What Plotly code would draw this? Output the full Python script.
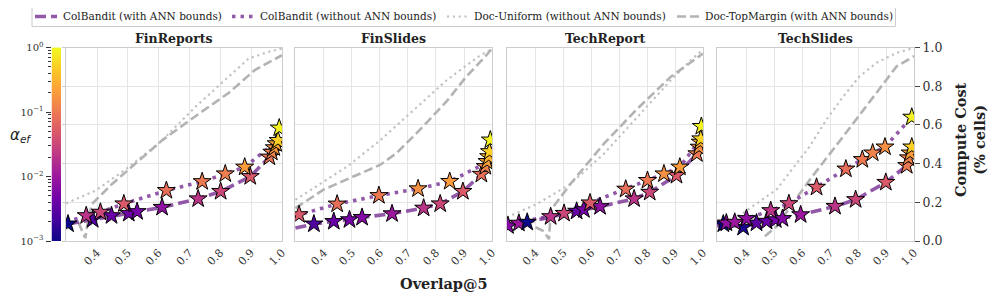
import numpy as np
import plotly.graph_objects as go

datasets = ["FinReports", "FinSlides", "TechReport", "TechSlides"]

# ---- ColBandit (with ANN bounds): Overlap@5, compute cost, log10(alpha_ef) (None = no star)
finreports_ann_x = [0.306, 0.386, 0.447, 0.503, 0.530, 0.611, 0.728, 0.801, 0.897, 0.959, 0.967, 0.975, 0.981]
finreports_ann_y = [0.088, 0.111, 0.131, 0.143, 0.152, 0.174, 0.218, 0.256, 0.333, 0.434, 0.459, 0.482, 0.503]
finreports_ann_a = [-3.0, -2.6, -2.4, -2.35, -2.3, -2.1, -1.7, -1.5, -1.3, -1.05, -0.9, -0.75, -0.6]
# ---- ColBandit (without ANN bounds)
finreports_noann_x = [0.300, 0.365, 0.411, 0.487, 0.625, 0.741, 0.816, 0.879, 0.987, 0.991]
finreports_noann_y = [0.097, 0.131, 0.149, 0.192, 0.261, 0.307, 0.347, 0.382, 0.520, 0.584]
finreports_noann_a = [None, -1.7, -1.5, -1.3, -1.1, -1.0, -0.95, -0.7, -0.3, -0.05]
# ---- Doc-Uniform (without ANN bounds)
finreports_uni_x = [0.300, 0.395, 0.503, 0.611, 0.719, 0.827, 0.892, 0.957, 1.000]
finreports_uni_y = [0.195, 0.260, 0.382, 0.520, 0.693, 0.848, 0.943, 0.978, 0.995]
# ---- Doc-TopMargin (with ANN bounds)
finreports_top_x = [0.340, 0.352, 0.362, 0.372, 0.384, 0.449, 0.503, 0.611, 0.719, 0.827, 0.913, 0.989, 1.000]
finreports_top_y = [0.095, 0.050, 0.015, 0.120, 0.192, 0.295, 0.370, 0.520, 0.645, 0.765, 0.885, 0.952, 0.960]

finslides_ann_x = [0.298, 0.364, 0.435, 0.491, 0.536, 0.643, 0.756, 0.815, 0.896, 0.962, 0.976, 0.982, 0.988]
finslides_ann_y = [0.067, 0.088, 0.101, 0.110, 0.122, 0.141, 0.170, 0.192, 0.256, 0.345, 0.385, 0.411, 0.436]
finslides_ann_a = [None, -2.6, -2.4, -2.3, -2.2, -2.0, -1.7, -1.5, -1.3, -1.1, -0.9, -0.7, -0.5]
finslides_noann_x = [0.298, 0.311, 0.447, 0.596, 0.736, 0.849, 0.975, 0.991, 0.994]
finslides_noann_y = [0.130, 0.136, 0.191, 0.235, 0.270, 0.308, 0.400, 0.462, 0.522]
finslides_noann_a = [None, -1.3, -1.1, -1.0, -0.8, -0.7, None, -0.3, -0.05]
finslides_uni_x = [0.298, 0.400, 0.483, 0.602, 0.720, 0.839, 0.958, 1.000]
finslides_uni_y = [0.213, 0.310, 0.385, 0.522, 0.677, 0.832, 0.960, 0.990]
finslides_top_x = [0.298, 0.398, 0.505, 0.600, 0.659, 0.742, 0.837, 0.908, 0.980, 1.000]
finslides_top_y = [0.170, 0.265, 0.333, 0.393, 0.454, 0.574, 0.720, 0.849, 0.960, 0.995]

techreport_ann_x = [0.301, 0.340, 0.370, 0.460, 0.547, 0.573, 0.631, 0.753, 0.809, 0.905, 0.978, 0.986, 0.990]
techreport_ann_y = [0.079, 0.092, 0.097, 0.128, 0.154, 0.162, 0.178, 0.218, 0.252, 0.339, 0.451, 0.485, 0.511]
techreport_ann_a = [-2.2, -2.0, -3.0, None, -2.4, -2.3, -2.1, -1.7, -1.5, -1.3, -1.0, -0.8, -0.6]
techreport_noann_x = [0.300, 0.454, 0.502, 0.595, 0.723, 0.801, 0.860, 0.917, 0.992, 0.994]
techreport_noann_y = [0.085, 0.126, 0.143, 0.197, 0.268, 0.313, 0.347, 0.382, 0.528, 0.592]
techreport_noann_a = [None, -1.7, -1.5, -1.3, -1.1, -1.0, -0.8, -0.7, -0.25, -0.05]
techreport_uni_x = [0.297, 0.406, 0.525, 0.645, 0.765, 0.884, 0.956, 1.000]
techreport_uni_y = [0.123, 0.192, 0.295, 0.451, 0.641, 0.830, 0.934, 0.990]
techreport_top_x = [0.400, 0.430, 0.448, 0.452, 0.460, 0.525, 0.645, 0.765, 0.884, 1.000]
techreport_top_y = [0.071, 0.050, 0.010, 0.100, 0.170, 0.295, 0.503, 0.684, 0.848, 0.969]

techslides_ann_x = [0.295, 0.317, 0.388, 0.436, 0.472, 0.505, 0.529, 0.594, 0.717, 0.791, 0.899, 0.974, 0.980, 0.986, 0.992]
techslides_ann_y = [0.076, 0.088, 0.071, 0.093, 0.102, 0.110, 0.116, 0.136, 0.179, 0.214, 0.303, 0.390, 0.430, 0.455, 0.486]
techslides_ann_a = [None, -3.0, -2.9, -2.5, -2.4, -2.3, -2.2, -2.0, -1.7, -1.5, -1.3, -1.0, -0.9, -0.7, -0.3]
techslides_noann_x = [0.295, 0.328, 0.358, 0.400, 0.487, 0.552, 0.651, 0.756, 0.815, 0.852, 0.896, 0.992]
techslides_noann_y = [0.084, 0.093, 0.097, 0.116, 0.157, 0.193, 0.278, 0.372, 0.421, 0.455, 0.486, 0.640]
techslides_noann_a = [None, -2.1, -2.0, -2.1, -1.7, -1.5, -1.3, -1.1, -1.0, -0.9, -0.8, -0.05]
techslides_uni_x = [0.295, 0.388, 0.508, 0.627, 0.687, 0.747, 0.806, 0.866, 0.938, 1.000]
techslides_uni_y = [0.076, 0.145, 0.266, 0.490, 0.628, 0.748, 0.852, 0.921, 0.972, 0.998]
techslides_top_x = [0.466, 0.508, 0.567, 0.627, 0.747, 0.866, 0.938, 1.000]
techslides_top_y = [0.024, 0.076, 0.197, 0.317, 0.541, 0.766, 0.903, 0.955]

x_ticks = [0.4, 0.5, 0.6, 0.7, 0.8, 0.9, 1.0]
y_ticks = [0.0, 0.2, 0.4, 0.6, 0.8, 1.0]
cbar_ticks = [-3, -2, -1, 0]
cbar_labels = ["10<sup>−3</sup>", "10<sup>−2</sup>", "10<sup>−1</sup>", "10<sup>0</sup>"]
series_keys = ["ann", "noann", "uni", "top"]
legend_labels = ["ColBandit (with ANN bounds)", "ColBandit (without ANN bounds)",
                 "Doc-Uniform (without ANN bounds)", "Doc-TopMargin (with ANN bounds)"]

data = {
    "FinReports": dict(ann=(finreports_ann_x, finreports_ann_y, finreports_ann_a),
                       noann=(finreports_noann_x, finreports_noann_y, finreports_noann_a),
                       uni=(finreports_uni_x, finreports_uni_y), top=(finreports_top_x, finreports_top_y)),
    "FinSlides": dict(ann=(finslides_ann_x, finslides_ann_y, finslides_ann_a),
                      noann=(finslides_noann_x, finslides_noann_y, finslides_noann_a),
                      uni=(finslides_uni_x, finslides_uni_y), top=(finslides_top_x, finslides_top_y)),
    "TechReport": dict(ann=(techreport_ann_x, techreport_ann_y, techreport_ann_a),
                       noann=(techreport_noann_x, techreport_noann_y, techreport_noann_a),
                       uni=(techreport_uni_x, techreport_uni_y), top=(techreport_top_x, techreport_top_y)),
    "TechSlides": dict(ann=(techslides_ann_x, techslides_ann_y, techslides_ann_a),
                       noann=(techslides_noann_x, techslides_noann_y, techslides_noann_a),
                       uni=(techslides_uni_x, techslides_uni_y), top=(techslides_top_x, techslides_top_y)),
}

# The page body has an 8px margin; the figure is sized/offset so it lands on the 996x300 window.
OFF = 8
W, H = 996 - OFF, 300 - OFF


def fx(px):
    return (px - OFF) / W


def fy(py):
    return 1 - (py - OFF) / H


FONT = "DejaVu Serif"
PURPLE = "rgba(118,48,146,0.80)"
GREY_DOT = "#c2c2c2"
GREY_DASH = "#b3b3b3"
GRID = "#e5e5e5"
FRAME = "#cccccc"

styles = {
    "ann": dict(color=PURPLE, width=3.6, dash="11px,5px"),
    "noann": dict(color=PURPLE, width=3.6, dash="3.5px,5px"),
    "uni": dict(color=GREY_DOT, width=2.2, dash="2.2px,3.6px"),
    "top": dict(color=GREY_DASH, width=2.6, dash="9px,4px"),
}

px_x = [(66, 282), (295, 492), (507, 703), (717, 914)]
y_dom = [fy(241), fy(47.5)]
x_ranges = [(0.2994, 1.0), (0.2965, 1.0), (0.2975, 1.0), (0.2945, 1.0)]

fig = go.Figure()

for i, name in enumerate(datasets):
    xa = "x" if i == 0 else f"x{i+1}"
    ya = "y" if i == 0 else f"y{i+1}"
    d = data[name]
    for key in ["uni", "top"]:
        xs, ys = d[key]
        fig.add_trace(go.Scatter(x=xs, y=ys, mode="lines", line=styles[key],
                                 xaxis=xa, yaxis=ya, showlegend=False, hoverinfo="skip"))
    for key in ["ann", "noann"]:
        xs, ys, a = d[key]
        fig.add_trace(go.Scatter(x=xs, y=ys, mode="lines", line=styles[key],
                                 xaxis=xa, yaxis=ya, showlegend=False, hoverinfo="skip"))
    for key in ["ann", "noann"]:
        xs, ys, a = d[key]
        sx = [x for x, c in zip(xs, a) if c is not None]
        sy = [y for y, c in zip(ys, a) if c is not None]
        sc = [c for c in a if c is not None]
        fig.add_trace(go.Scatter(x=sx, y=sy, mode="markers",
                                 marker=dict(symbol="star", size=13.5, color=sc, colorscale="Plasma",
                                             cmin=-3, cmax=0, line=dict(color="black", width=1)),
                                 xaxis=xa, yaxis=ya, showlegend=False, hoverinfo="skip"))

    l, r = px_x[i]
    fig.update_layout(**{
        ("xaxis" if i == 0 else f"xaxis{i+1}"): dict(
            domain=[fx(l), fx(r)], range=list(x_ranges[i]), anchor=ya, automargin=False,
            tickmode="array", tickvals=x_ticks, ticktext=[f"{v:.1f}" for v in x_ticks],
            tickangle=-45, tickfont=dict(family=FONT, size=11, color="#333333"),
            showgrid=True, gridcolor=GRID, gridwidth=1, zeroline=False,
            showline=True, mirror=True, linecolor=FRAME, linewidth=1, ticks=""),
        ("yaxis" if i == 0 else f"yaxis{i+1}"): dict(
            domain=y_dom, range=[0, 1], anchor=xa, automargin=False,
            tickmode="array", tickvals=y_ticks, ticktext=[f"{v:.1f}" for v in y_ticks],
            side="right" if i == 3 else "left",
            showticklabels=(i == 3),
            ticks="outside" if i in (0, 3) else "", ticklen=5 if i == 3 else 3,
            tickcolor="#444444" if i == 3 else FRAME,
            tickfont=dict(family=FONT, size=12.5, color="#333333"),
            showgrid=True, gridcolor=GRID, gridwidth=1, zeroline=False,
            showline=True, mirror=True, linecolor=FRAME, linewidth=1),
    })
    fig.add_annotation(x=fx((l + r) / 2), y=fy(39), xref="paper", yref="paper",
                       text=f"<b>{name}</b>", showarrow=False, xanchor="center", yanchor="middle",
                       font=dict(family=FONT, size=12.5, color="#222222"))

# colorbar drawn as heatmap on its own axis
cb_vals = np.linspace(-3, 0, 300)
fig.add_trace(go.Heatmap(z=[[v] for v in cb_vals], x=[0], y=cb_vals, colorscale="Plasma",
                         zmin=-3, zmax=0, showscale=False, xaxis="x5", yaxis="y5", hoverinfo="skip"))
minor_vals = [float(np.log10(k * 10.0 ** e)) for e in (-3, -2, -1) for k in range(2, 10)]
fig.update_layout(
    xaxis5=dict(domain=[fx(51.5), fx(61)], range=[-0.5, 0.5], anchor="y5", visible=False,
                automargin=False),
    yaxis5=dict(domain=y_dom, range=[-3, 0], anchor="x5", side="left", automargin=False,
                tickmode="array", tickvals=cbar_ticks, ticktext=cbar_labels,
                ticks="outside", ticklen=5, tickcolor="#333333", tickwidth=1,
                tickfont=dict(family=FONT, size=10, color="#333333"),
                showgrid=False, zeroline=False, showline=False,
                minor=dict(tickmode="array", tickvals=minor_vals, ticks="outside",
                           ticklen=2.5, tickcolor="#333333", showgrid=False)),
)

# legend drawn manually (frame, line samples, labels)
leg_sample_px = [35, 232, 447, 677]
leg_text_px = [61, 258, 472, 703]
leg_y = fy(16.5)
fig.add_shape(type="rect", xref="paper", yref="paper", x0=fx(32), x1=fx(895.5),
              y0=fy(26.5), y1=fy(7.5), line=dict(color=FRAME, width=1), fillcolor="white")
for key, lab, sp, tp in zip(series_keys, legend_labels, leg_sample_px, leg_text_px):
    st = styles[key]
    fig.add_shape(type="line", xref="paper", yref="paper", x0=fx(sp), x1=fx(sp + 22),
                  y0=leg_y, y1=leg_y, line=dict(color=st["color"], width=st["width"], dash=st["dash"]))
    fig.add_annotation(x=fx(tp), y=leg_y, xref="paper", yref="paper", text=lab, showarrow=False,
                       xanchor="left", yanchor="middle",
                       font=dict(family=FONT, size=10.5, color="#222222"))

fig.add_annotation(x=fx(444), y=fy(283), xref="paper", yref="paper", text="<b>Overlap@5</b>",
                   showarrow=False, xanchor="center", yanchor="middle",
                   font=dict(family=FONT, size=14.5, color="#222222"))
fig.add_annotation(x=fx(970), y=fy(140), xref="paper", yref="paper",
                   text="<b>Compute Cost<br>(% cells)</b>", textangle=-90,
                   showarrow=False, xanchor="center", yanchor="middle",
                   font=dict(family=FONT, size=14.5, color="#222222"))
fig.add_annotation(x=fx(8.5), y=fy(135), xref="paper", yref="paper",
                   text="<i>α</i><sub><i>ef</i></sub>", showarrow=False,
                   xanchor="left", yanchor="middle", borderpad=0,
                   font=dict(family="DejaVu Sans", size=15, color="#222222"))

fig.update_layout(
    width=W, height=H, margin=dict(l=0, r=0, t=0, b=0, autoexpand=False),
    paper_bgcolor="white", plot_bgcolor="white",
    showlegend=False,
)

fig.write_html("out.html")
